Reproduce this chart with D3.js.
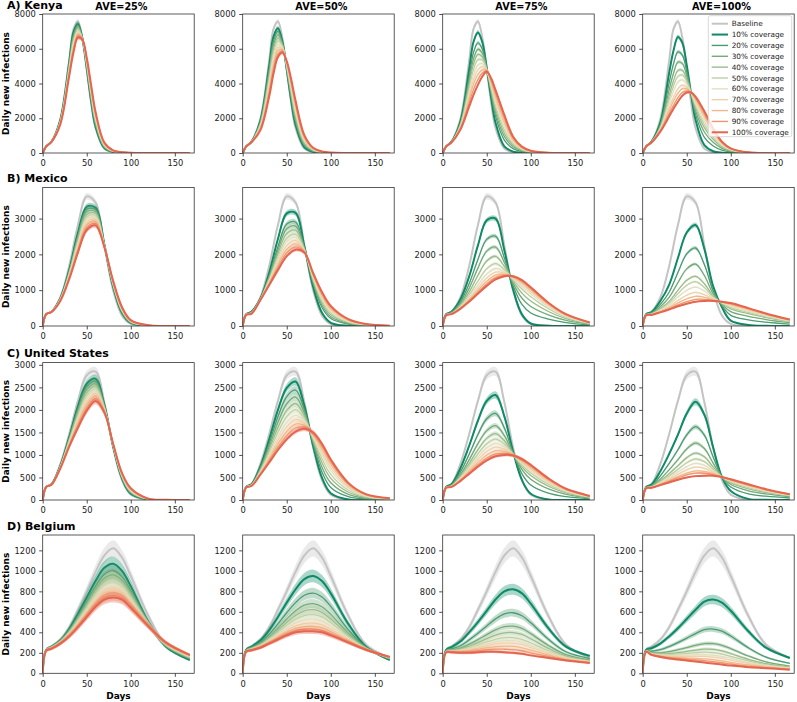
<!DOCTYPE html>
<html>
<head>
<meta charset="utf-8">
<script src="https://cdn.jsdelivr.net/npm/d3@7"></script>
<style>
  body { margin: 0; background: #fff; }
  svg { display: block; }
  text { font-family: "DejaVu Sans", sans-serif; }
</style>
</head>
<body>
<svg id="chart" width="797" height="702"></svg>
<script>
// ---------- data ----------
const countries = ['A) Kenya', 'B) Mexico', 'C) United States', 'D) Belgium'];
const aveLabels = ['AVE=25%', 'AVE=50%', 'AVE=75%', 'AVE=100%'];
const seriesLabels = ['Baseline', '10% coverage', '20% coverage', '30% coverage', '40% coverage',
  '50% coverage', '60% coverage', '70% coverage', '80% coverage', '90% coverage', '100% coverage'];
const xTicks = [0, 50, 100, 150];
const kenyaTicks = [0, 2000, 4000, 6000, 8000];
const mexicoTicks = [0, 1000, 2000, 3000];
const usTicks = [0, 500, 1000, 1500, 2000, 2500, 3000];
const belgiumTicks = [0, 200, 400, 600, 800, 1000, 1200];
// relative half-width of the uncertainty band, per country
const bandHalfWidth = [0.02, 0.025, 0.035, 0.065];

const kenyaDays = [0, 4, 10, 20, 30, 35, 40, 45, 50, 55, 60, 70, 80, 90, 100, 120, 167];
const kenyaBaseline = [0,380,650,1950,5300,7140,7570,6630,4810,2890,1430,250,50,10,0,0,0];
const kenyaAve25 = [
  [0,380,650,1900,5200,6960,7430,6600,4870,2990,1520,280,60,12,0,0,0],
  [0,380,650,1870,5110,6830,7340,6590,4940,3090,1620,320,70,16,2,0,0],
  [0,380,650,1840,5020,6700,7250,6580,5010,3190,1710,350,80,20,3,0,0],
  [0,380,650,1820,4930,6570,7170,6580,5070,3300,1810,390,90,25,5,0,0],
  [0,380,645,1790,4840,6440,7080,6570,5140,3400,1900,420,100,29,7,1,0],
  [0,380,645,1760,4760,6320,6990,6560,5210,3500,2000,460,110,33,8,1,0],
  [0,380,645,1730,4670,6190,6900,6550,5280,3600,2090,490,120,37,10,1,0],
  [0,380,640,1710,4580,6060,6820,6550,5340,3710,2190,530,130,41,12,2,0],
  [0,380,640,1680,4490,5930,6730,6540,5410,3810,2280,560,140,46,13,2,0],
  [0,380,640,1650,4400,5800,6640,6530,5480,3910,2380,600,150,50,15,2,0]
];
const kenyaAve50 = [
  [0,380,650,1850,5000,6700,7180,6430,4800,3050,1630,330,70,15,0,0,0],
  [0,380,645,1790,4800,6460,7000,6360,4850,3180,1780,410,96,23,3,0,0],
  [0,380,645,1730,4610,6230,6810,6290,4910,3320,1940,490,120,32,6,1,0],
  [0,380,640,1670,4410,5990,6630,6220,4960,3450,2090,560,147,40,8,1,0],
  [0,380,635,1610,4220,5750,6450,6150,5020,3590,2250,640,172,48,11,2,0],
  [0,380,635,1540,4020,5520,6260,6070,5070,3720,2400,720,198,57,14,2,0],
  [0,380,630,1480,3830,5280,6080,6000,5130,3860,2560,800,223,65,17,3,0],
  [0,380,625,1420,3630,5040,5900,5930,5180,3990,2710,870,249,73,19,3,0],
  [0,380,625,1360,3440,4810,5710,5860,5240,4130,2870,950,274,82,22,3,0],
  [0,380,620,1300,3240,4570,5530,5790,5290,4260,3020,1030,300,90,25,4,0]
];
const kenyaAve75 = [
  [0,380,650,1800,4800,6400,6940,6370,4900,3190,1740,380,80,15,3,0,0],
  [0,380,640,1710,4370,5790,6340,5980,4860,3410,2120,740,250,85,28,4,0],
  [0,380,635,1650,4120,5420,5970,5740,4830,3550,2340,960,355,127,44,6,0],
  [0,380,630,1600,3910,5120,5670,5540,4810,3660,2530,1140,440,162,56,8,0],
  [0,380,625,1560,3690,4810,5370,5350,4790,3770,2720,1320,530,197,69,10,0],
  [0,380,620,1510,3480,4510,5070,5150,4770,3880,2910,1500,610,232,82,12,0],
  [0,380,615,1470,3290,4230,4800,4970,4750,3980,3080,1670,690,263,93,14,0],
  [0,380,610,1420,3100,3960,4520,4790,4730,4080,3250,1830,770,295,105,16,0],
  [0,380,605,1380,2880,3660,4220,4600,4710,4190,3440,2010,850,330,117,18,0],
  [0,380,600,1330,2670,3350,3920,4400,4690,4300,3630,2190,940,365,130,20,0]
];
const kenyaAve100 = [
  [0,380,650,1750,4600,5900,6680,6340,5060,3390,1910,450,100,20,4,0,0],
  [0,380,640,1630,4030,5130,5820,5640,4700,3410,2220,900,400,165,65,9,0],
  [0,380,630,1550,3630,4590,5230,5150,4440,3430,2430,1210,615,265,108,16,0],
  [0,380,625,1480,3300,4160,4750,4760,4240,3440,2610,1460,790,350,140,21,0],
  [0,380,620,1430,3080,3860,4410,4490,4100,3450,2730,1640,905,405,166,24,0],
  [0,380,615,1390,2850,3560,4080,4210,3950,3450,2850,1820,1020,460,190,28,0],
  [0,380,610,1330,2600,3220,3700,3910,3800,3460,2980,2010,1160,525,217,32,0],
  [0,380,605,1300,2430,2990,3440,3700,3690,3470,3080,2150,1250,570,235,35,0],
  [0,380,600,1260,2250,2750,3180,3480,3580,3480,3170,2280,1340,610,254,38,0],
  [0,380,600,1230,2100,2550,2960,3300,3480,3480,3250,2400,1420,650,270,40,0]
];

const mexicoDays = [0, 4, 10, 20, 30, 40, 50, 60, 70, 80, 90, 100, 120, 140, 167];
const mexicoBaseline = [0,330,400,800,1670,2820,3620,3450,2240,990,290,60,5,0,0];
const mexicoAve25 = [
  [0,330,400,780,1560,2600,3330,3300,2280,1090,365,85,8,0,0],
  [0,330,400,770,1530,2540,3260,3250,2270,1110,380,95,9,0,0],
  [0,330,400,760,1500,2480,3190,3190,2260,1130,400,105,11,0,0],
  [0,330,395,750,1470,2420,3110,3140,2250,1150,420,110,12,1,0],
  [0,330,395,745,1445,2355,3040,3080,2245,1165,440,120,13,1,0],
  [0,330,395,735,1415,2295,2970,3030,2235,1185,455,130,15,1,0],
  [0,330,395,725,1385,2235,2900,2975,2225,1205,475,140,16,1,0],
  [0,330,390,720,1360,2170,2825,2920,2220,1220,495,145,17,2,0],
  [0,330,390,710,1330,2110,2750,2865,2210,1240,510,155,19,2,0],
  [0,330,390,700,1300,2050,2680,2810,2200,1260,530,165,20,2,0]
];
const mexicoAve50 = [
  [0,330,400,760,1480,2430,3145,3160,2230,1090,370,90,8,0,0],
  [0,325,385,750,1395,2213,2846,2903,2185,1188,515,208,54,14,3],
  [0,323,378,746,1358,2117,2715,2789,2165,1230,579,259,74,20,4],
  [0,321,372,741,1320,2021,2583,2676,2145,1273,643,311,94,26,5],
  [0,318,365,737,1283,1925,2452,2563,2126,1316,706,363,114,32,6],
  [0,317,360,734,1256,1856,2356,2480,2111,1347,753,400,128,36,7],
  [0,315,355,730,1225,1778,2249,2388,2095,1383,805,443,145,41,8],
  [0,313,350,726,1194,1699,2141,2295,2079,1418,857,485,161,46,8],
  [0,312,345,723,1167,1630,2046,2212,2064,1449,904,522,175,51,9],
  [0,310,340,720,1140,1560,1950,2130,2050,1480,950,560,190,55,10]
];
const mexicoAve75 = [
  [0,330,400,740,1380,2250,2950,3000,2110,1010,325,70,8,0,0],
  [0,321,380,665,1177,1859,2419,2507,1901,1120,602,363,194,96,29],
  [0,316,367,618,1051,1616,2090,2201,1772,1189,774,545,310,155,47],
  [0,311,357,579,946,1413,1815,1946,1664,1246,917,696,406,205,62],
  [0,308,348,548,862,1251,1596,1742,1577,1291,1032,817,483,244,74],
  [0,305,343,527,806,1143,1449,1606,1520,1322,1108,898,534,271,82],
  [0,304,338,511,764,1062,1340,1504,1476,1344,1165,959,573,290,88],
  [0,302,335,498,729,995,1248,1419,1440,1363,1213,1009,605,307,93],
  [0,301,332,488,701,940,1175,1351,1412,1379,1251,1050,631,320,97],
  [0,300,330,480,680,900,1120,1300,1390,1390,1280,1080,650,330,100]
];
const mexicoAve100 = [
  [0,330,390,700,1150,1900,2610,2820,2150,1110,520,150,30,5,0],
  [0,321,366,604,943,1495,2013,2178,1715,987,568,297,171,109,54],
  [0,315,349,537,798,1212,1595,1729,1411,901,602,400,270,181,92],
  [0,310,336,486,688,996,1277,1386,1179,835,627,478,345,236,121],
  [0,308,331,463,639,901,1137,1236,1077,807,638,513,378,260,133],
  [0,306,325,441,591,807,998,1087,976,778,650,547,411,284,146],
  [0,304,320,418,543,712,859,937,874,749,661,581,444,309,158],
  [0,302,316,402,508,645,759,830,802,729,669,606,467,326,167],
  [0,301,312,390,481,591,680,744,744,712,675,625,486,340,175],
  [0,300,310,380,460,550,620,680,700,700,680,640,500,350,180]
];

const usDays = [0, 4, 10, 20, 30, 40, 50, 60, 70, 80, 90, 100, 120, 140, 167];
const usBaseline = [0,290,350,800,1460,2200,2770,2850,2170,1160,440,120,5,0,0];
const usAve25 = [
  [0,290,350,760,1390,2080,2580,2690,2110,1185,480,140,8,0,0],
  [0,290,349,753,1367,2027,2513,2635,2091,1192,493,153,10,1,0],
  [0,290,348,747,1343,1973,2447,2580,2072,1199,507,167,13,1,0],
  [0,290,347,740,1320,1920,2380,2525,2053,1207,520,180,15,2,0],
  [0,290,346,733,1297,1867,2313,2470,2034,1214,533,193,18,2,0],
  [0,290,344,727,1273,1813,2247,2415,2016,1221,547,207,20,3,0],
  [0,290,343,720,1250,1760,2180,2360,1997,1228,560,220,23,3,0],
  [0,290,342,713,1227,1707,2113,2305,1978,1236,573,233,25,4,0],
  [0,290,341,707,1203,1653,2047,2250,1959,1243,587,247,28,4,0],
  [0,290,340,700,1180,1600,1980,2195,1940,1250,600,260,30,5,0]
];
const usAve50 = [
  [0,290,350,740,1340,2000,2490,2630,2090,1200,495,150,10,0,0],
  [0,288,343,709,1253,1849,2296,2441,2003,1251,623,278,73,22,7],
  [0,287,338,684,1182,1724,2137,2286,1932,1293,729,383,125,40,12],
  [0,286,332,661,1116,1608,1988,2142,1866,1332,827,480,173,57,18],
  [0,284,328,639,1054,1502,1852,2008,1804,1368,918,570,217,73,22],
  [0,283,323,619,998,1404,1726,1886,1748,1401,1001,653,258,87,27],
  [0,282,320,603,952,1324,1624,1786,1702,1428,1069,720,291,99,30],
  [0,281,316,587,907,1244,1521,1687,1657,1455,1137,788,325,111,34],
  [0,281,313,573,866,1172,1430,1598,1616,1479,1197,848,354,121,37],
  [0,280,310,560,830,1110,1350,1520,1580,1500,1250,900,380,130,40]
];
const usAve75 = [
  [0,290,350,700,1200,1760,2200,2330,1855,1065,440,140,10,0,0],
  [0,284,332,616,1014,1454,1804,1922,1599,1043,581,332,151,75,27],
  [0,280,320,560,890,1250,1540,1650,1428,1028,675,460,245,125,45],
  [0,277,312,524,809,1117,1368,1473,1316,1018,736,543,306,158,57],
  [0,276,307,498,754,1026,1250,1351,1239,1011,778,601,348,180,65],
  [0,274,303,479,710,954,1157,1256,1180,1006,811,646,381,198,71],
  [0,273,299,462,673,893,1078,1174,1128,1001,840,684,410,213,77],
  [0,272,295,445,636,832,999,1092,1077,997,868,722,438,228,82],
  [0,271,292,431,605,781,933,1024,1034,993,891,754,461,240,86],
  [0,270,290,420,580,740,880,970,1000,990,910,780,480,250,90]
];
const usAve100 = [
  [0,290,345,640,1020,1450,1920,2180,1895,1165,510,200,25,5,0],
  [0,280,320,536,809,1115,1444,1627,1441,956,510,287,134,84,44],
  [0,273,303,468,670,895,1132,1264,1143,818,510,344,205,135,72],
  [0,269,293,426,585,760,940,1042,960,734,510,379,249,167,90],
  [0,267,287,401,535,680,827,910,852,684,510,400,275,186,100],
  [0,265,283,383,497,620,741,811,770,646,510,416,295,200,108],
  [0,264,279,367,466,570,670,728,703,615,510,429,311,212,114],
  [0,262,275,352,434,520,599,646,635,584,510,442,327,224,121],
  [0,261,273,342,415,490,557,596,594,565,510,450,337,231,125],
  [0,260,270,330,390,450,500,530,540,540,510,460,350,240,130]
];

const belgiumDays = [0, 4, 10, 20, 30, 40, 50, 60, 70, 80, 90, 100, 120, 140, 167];
const belgiumBaseline = [0,230,260,330,450,620,800,990,1150,1220,1130,950,560,280,150];
const belgiumAve25 = [
  [0,230,260,320,430,580,740,900,1030,1070,1000,850,500,260,130],
  [0,228,256,314,415,553,700,848,965,1001,941,806,492,268,141],
  [0,227,253,310,407,537,677,818,928,961,908,781,487,273,147],
  [0,226,252,307,401,525,660,795,900,931,882,762,483,277,151],
  [0,225,249,304,392,509,636,763,860,889,846,735,478,282,158],
  [0,223,247,300,383,493,613,733,822,849,812,709,473,287,164],
  [0,222,245,297,377,481,596,710,794,819,787,690,470,290,168],
  [0,222,243,295,371,470,579,688,767,790,762,672,466,294,173],
  [0,221,241,292,364,458,561,665,739,760,737,653,462,298,177],
  [0,220,240,290,360,450,550,650,720,740,720,640,460,300,180]
];
const belgiumAve50 = [
  [0,230,260,320,420,550,690,820,920,950,900,780,480,260,130],
  [0,224,249,298,380,482,591,690,762,783,745,653,424,251,139],
  [0,220,243,285,355,440,530,610,665,680,650,575,390,245,145],
  [0,218,239,277,341,416,495,564,609,621,595,530,370,242,148],
  [0,216,236,271,329,396,466,526,563,572,550,493,354,239,151],
  [0,214,233,265,319,378,440,492,522,529,510,460,340,237,153],
  [0,213,230,261,310,363,418,463,487,491,475,432,327,235,156],
  [0,212,228,256,302,350,399,438,456,459,445,407,316,233,157],
  [0,211,226,253,295,339,383,417,430,432,420,386,307,231,159],
  [0,210,225,250,290,330,370,400,410,410,400,370,300,230,160]
];
const belgiumAve75 = [
  [0,230,255,310,400,500,610,720,800,820,780,680,440,260,170],
  [0,221,237,269,326,391,462,531,580,591,562,493,333,210,144],
  [0,216,226,246,284,329,378,424,455,460,438,387,272,182,129],
  [0,213,221,235,264,299,338,373,395,398,379,337,243,168,122],
  [0,211,217,226,248,276,306,332,348,349,332,296,220,157,117],
  [0,210,215,221,238,261,286,307,318,318,302,271,205,151,113],
  [0,209,213,217,230,249,270,287,294,293,279,251,194,145,111],
  [0,208,210,211,220,235,250,261,265,262,249,226,179,139,107],
  [0,206,208,206,210,220,230,236,235,231,220,200,165,132,104],
  [0,205,205,200,200,205,210,210,205,200,190,175,150,125,100]
];
const belgiumAve100 = [
  [0,230,245,290,360,440,530,620,700,720,690,610,410,250,150],
  [0,221,215,230,261,300,344,388,426,432,412,364,249,158,97],
  [0,216,200,200,212,230,251,272,289,289,273,241,169,112,71],
  [0,214,194,189,192,202,214,226,236,233,218,193,137,94,60],
  [0,213,191,182,182,187,194,201,206,201,188,166,120,84,55],
  [0,213,188,177,173,175,178,181,182,176,164,145,106,76,50],
  [0,212,187,173,167,165,166,166,165,157,146,128,95,70,47],
  [0,211,184,168,158,153,149,145,141,133,121,107,81,62,42],
  [0,211,182,164,151,144,137,130,123,114,103,91,70,56,39],
  [0,210,180,160,145,135,125,115,105,95,85,75,60,50,35]
];

// ---------- styles / layout ----------
const baselineColor = '#c4c4c4';
const coverageColors = ['#0e8a67', '#4c9c71', '#75ab79', '#9bbd8b', '#bfd1a4',
  '#e2e0c3', '#efd2ad', '#f0b98b', '#ec976f', '#e6654f'];

const rows = [
  { days: kenyaDays, baseline: kenyaBaseline, aves: [kenyaAve25, kenyaAve50, kenyaAve75, kenyaAve100], ticks: kenyaTicks, yTop: 8000 },
  { days: mexicoDays, baseline: mexicoBaseline, aves: [mexicoAve25, mexicoAve50, mexicoAve75, mexicoAve100], ticks: mexicoTicks, yTop: 3870 },
  { days: usDays, baseline: usBaseline, aves: [usAve25, usAve50, usAve75, usAve100], ticks: usTicks, yTop: 3050 },
  { days: belgiumDays, baseline: belgiumBaseline, aves: [belgiumAve25, belgiumAve50, belgiumAve75, belgiumAve100], ticks: belgiumTicks, yTop: 1350 }
];

const colLeft = [42.7, 242.7, 442.7, 642.7];
const panelW = 151.5;
const rowTop = [14, 187.4, 362.6, 535];
const rowBottom = [153, 326, 500, 673.3];

const svg = d3.select('#chart');
const curve = d3.curveCatmullRom.alpha(0.5);

rows.forEach((row, r) => {
  // row label and y label
  svg.append('text')
    .attr('x', 7).attr('y', rowTop[r] - 5.5)
    .style('font-size', '11px').style('font-weight', 'bold')
    .text(countries[r]);

  svg.append('text')
    .attr('transform', `translate(8.5,${(rowTop[r] + rowBottom[r]) / 2}) rotate(-90)`)
    .attr('text-anchor', 'middle')
    .style('font-size', '9px').style('font-weight', 'bold')
    .text('Daily new infections');

  row.aves.forEach((curves, c) => {
    const x = d3.scaleLinear([0, 172], [colLeft[c], colLeft[c] + panelW]);
    const y = d3.scaleLinear([0, row.yTop], [rowBottom[r], rowTop[r]]);
    const g = svg.append('g');
    const clipId = `clip-${r}-${c}`;

    g.append('clipPath').attr('id', clipId)
      .append('rect')
      .attr('x', colLeft[c]).attr('y', rowTop[r])
      .attr('width', panelW).attr('height', rowBottom[r] - rowTop[r]);

    const plot = g.append('g').attr('clip-path', `url(#${clipId})`);
    const bw = bandHalfWidth[r];

    const series = [{ vals: row.baseline, color: baselineColor, lw: 2 }]
      .concat(curves.map((vals, i) => ({
        vals, color: coverageColors[i], lw: (i === 0 || i === 9) ? 2 : 1.3
      })));

    const line = d3.line().x(d => x(d[0])).y(d => y(d[1])).curve(curve);
    const band = d3.area().x(d => x(d[0]))
      .y0(d => y(d[1] * (1 - bw))).y1(d => y(d[1] * (1 + bw))).curve(curve);

    series.forEach(s => {
      const pts = row.days.map((d, i) => [d, s.vals[i]]);
      plot.append('path').attr('d', band(pts))
        .attr('fill', s.color).attr('fill-opacity', 0.35).attr('stroke', 'none');
      plot.append('path').attr('d', line(pts))
        .attr('fill', 'none').attr('stroke', s.color)
        .attr('stroke-width', s.lw).attr('stroke-linejoin', 'round');
    });

    // axes
    const xAxis = g.append('g')
      .attr('transform', `translate(0,${rowBottom[r]})`)
      .call(d3.axisBottom(x).tickValues(xTicks).tickFormat(d3.format('d'))
        .tickSize(3.5).tickPadding(4));
    const yAxis = g.append('g')
      .attr('transform', `translate(${colLeft[c]},0)`)
      .call(d3.axisLeft(y).tickValues(row.ticks).tickFormat(d3.format('d'))
        .tickSize(3.5).tickPadding(3.5));
    [xAxis, yAxis].forEach(a => {
      a.select('.domain').remove();
      a.selectAll('line').attr('stroke', '#222').attr('stroke-width', 0.8);
      a.selectAll('text').style('font-size', '8.3px').attr('fill', '#222')
        .style('font-family', '"DejaVu Sans", sans-serif');
    });

    // spines
    g.append('rect')
      .attr('x', colLeft[c]).attr('y', rowTop[r])
      .attr('width', panelW).attr('height', rowBottom[r] - rowTop[r])
      .attr('fill', 'none').attr('stroke', '#333').attr('stroke-width', 0.8);

    if (r === 0) {
      svg.append('text')
        .attr('x', colLeft[c] + panelW / 2 + 3).attr('y', 9.5)
        .attr('text-anchor', 'middle')
        .style('font-size', '9.7px').style('font-weight', 'bold')
        .text(aveLabels[c]);
    }
    if (r === 3) {
      svg.append('text')
        .attr('x', colLeft[c] + panelW / 2).attr('y', 699)
        .attr('text-anchor', 'middle')
        .style('font-size', '9px').style('font-weight', 'bold')
        .text('Days');
    }
  });
});

// legend inside the top-right panel
const legend = svg.append('g').attr('transform', 'translate(708.3,15.7)');
legend.append('rect')
  .attr('width', 83.4).attr('height', 121)
  .attr('rx', 2).attr('fill', '#fff').attr('fill-opacity', 0.8)
  .attr('stroke', '#d0d0d0').attr('stroke-width', 0.8);
const legendColors = [baselineColor].concat(coverageColors);
seriesLabels.forEach((lab, i) => {
  const ly = 8 + i * 10.86;
  const thick = i === 0 || i === 1 || i === 10;
  legend.append('line')
    .attr('x1', 3.4).attr('x2', 19.7).attr('y1', ly).attr('y2', ly)
    .attr('stroke', legendColors[i]).attr('stroke-width', thick ? 2 : 1.4);
  legend.append('text')
    .attr('x', 23.4).attr('y', ly).attr('dy', '0.35em')
    .style('font-size', '7.3px').attr('fill', '#222')
    .text(lab);
});
</script>
</body>
</html>
